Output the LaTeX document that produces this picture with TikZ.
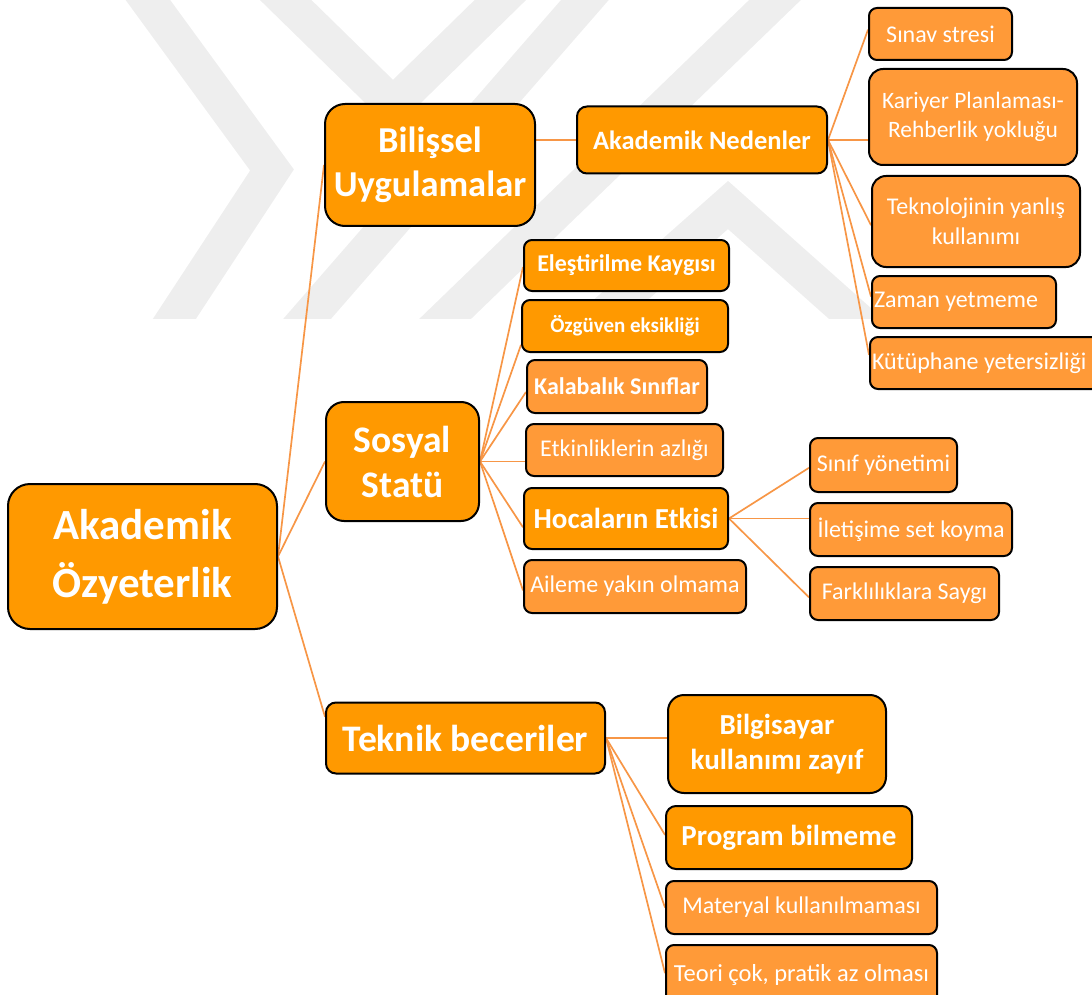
\documentclass[tikz,border=0pt]{standalone}
\usepackage{fontspec}
\setmainfont{Carlito}
\usetikzlibrary{calc,backgrounds}

\definecolor{darkor}{RGB}{255,153,0}
\definecolor{lightor}{RGB}{255,154,56}
\definecolor{linkor}{RGB}{247,150,70}
\definecolor{wmark}{RGB}{238,238,238}

\tikzset{
  box/.style={draw=black, line width=2pt, rounded corners=8pt, text=white,
              inner sep=1pt, align=center},
  main/.style={box, fill=darkor},
  leaf/.style={box, fill=lightor},
  bf/.style 2 args={font=\bfseries\fontsize{#1}{#2}\selectfont},
  rg/.style 2 args={font=\fontsize{#1}{#2}\selectfont},
  sz/.style 2 args={minimum width=#1, minimum height=#2},
  link/.style={draw=linkor, line width=1.7pt},
  band/.style={draw=wmark, line width=36pt, line join=miter, line cap=butt}
}

\begin{document}
\begin{tikzpicture}[x=1pt,y=-1pt]
\useasboundingbox (0,0) rectangle (1092,995);

% root
\node[main, bf={43pt}{58pt}, sz={269pt}{145pt}, rounded corners=22pt] (root) at (142.5,556.5) {Akademik\\Özyeterlik};

% first level
\node[main, bf={36.5pt}{44pt}, sz={210pt}{122pt}, rounded corners=20pt] (bil) at (430,165) {Bilişsel\\Uygulamalar};
\node[main, bf={37.5pt}{45pt}, sz={153pt}{119pt}, rounded corners=18pt] (sos) at (402.5,461.5) {Sosyal\\Statü};
\node[main, bf={37.5pt}{44pt}, sz={279pt}{71pt}, rounded corners=10pt] (tek) at (465.5,738) {Teknik beceriler};

% academic causes
\node[main, bf={26.5pt}{32pt}, sz={250pt}{67pt}, rounded corners=10pt] (an) at (702,140) {Akademik Nedenler};
\node[leaf, rg={24pt}{29pt}, sz={143pt}{52pt}] (sin) at (940.5,34) {Sınav stresi};
\node[leaf, rg={23.5pt}{28.5pt}, sz={208pt}{96pt}, rounded corners=14pt] (kar) at (973,117) {Kariyer Planlaması-\\Rehberlik yokluğu};
\node[leaf, rg={24pt}{30pt}, sz={208pt}{91pt}, rounded corners=14pt] (tekno) at (976,221.5) {Teknolojinin yanlış\\kullanımı};
\node[leaf, rg={24pt}{29pt}, sz={184pt}{52pt}] (zam) at (964,302) {\makebox[180pt][l]{Zaman yetmeme}};
\node[leaf, rg={24pt}{29pt}, sz={230pt}{52pt}] (kut) at (985,363) {\makebox[226pt][l]{Kütüphane yetersizliği}};

% social status
\node[main, bf={24pt}{29pt}, sz={205pt}{51pt}] (ele) at (626.5,265.5) {Eleştirilme Kaygısı};
\node[main, bf={21pt}{26pt}, sz={206pt}{52pt}] (ozg) at (625,326) {Özgüven eksikliği};
\node[leaf, bf={24pt}{29pt}, sz={180pt}{53pt}] (kal) at (617,386.5) {Kalabalık Sınıflar};
\node[leaf, rg={24pt}{29pt}, sz={197pt}{52pt}] (etk) at (624.5,450) {Etkinliklerin azlığı};
\node[main, bf={29pt}{35pt}, sz={204pt}{61pt}] (hoc) at (626,518.5) {Hocaların Etkisi};
\node[leaf, rg={24pt}{29pt}, sz={222pt}{53pt}] (ail) at (635,586.5) {Aileme yakın olmama};

% teachers
\node[leaf, rg={24pt}{29pt}, sz={147pt}{54pt}] (snf) at (883.5,465) {Sınıf yönetimi};
\node[leaf, rg={24pt}{29pt}, sz={202pt}{53pt}] (ilt) at (911,529.5) {İletişime set koyma};
\node[leaf, rg={24pt}{29pt}, sz={189pt}{53pt}] (frk) at (904.5,593.5) {Farklılıklara Saygı};

% technical skills
\node[main, bf={29pt}{35pt}, sz={218pt}{98pt}, rounded corners=16pt] (bsy) at (777,744) {Bilgisayar\\kullanımı zayıf};
\node[main, bf={29pt}{34pt}, sz={246pt}{63pt}, rounded corners=10pt] (prg) at (789,837.5) {Program bilmeme};
\node[leaf, rg={24pt}{29pt}, sz={271pt}{53pt}] (mat) at (801.5,907.5) {Materyal kullanılmaması};
\node[leaf, rg={24.5pt}{29pt}, sz={271pt}{60pt}] (teo) at (801.5,975) {Teori çok, pratik az olması};

\begin{scope}[on background layer]
  % light logo bands behind the map
  \begin{scope}
    \clip (0,0) rectangle (1092,318);
    \draw[band] (126,-30) -- (272,170) -- (154,350);
    \draw[band] (255,-30) -- (393,105) -- (531,-30);
    \draw[band] (280,350) -- (611,-30);
    \draw[band] (413,350) -- (806,-30);
    \draw[band] (564,350) -- (728,205) -- (891,350);
  \end{scope}

  % connectors
  \draw[link] (root.east) -- (bil.west);
  \draw[link] (root.east) -- (sos.west);
  \draw[link] (root.east) -- ($(tek.north west)!0.21!(tek.south west)$);

  \draw[link] (bil.east |- an.west) -- (an.west);
  \draw[link] (an.east) -- ($(sin.north west)!0.42!(sin.south west)$);
  \draw[link] (an.east) -- (an.east -| kar.west);
  \draw[link] (an.east) -- ($(tekno.north west)!0.54!(tekno.south west)$);
  \draw[link] (an.east) -- ($(zam.north west)!0.4!(zam.south west)$);
  \draw[link] (an.east) -- ($(kut.north west)!0.35!(kut.south west)$);

  \draw[link] (sos.east) -- ($(ele.north west)!0.53!(ele.south west)$);
  \draw[link] (sos.east) -- ($(ozg.north west)!0.85!(ozg.south west)$);
  \draw[link] (sos.east) -- ($(kal.north west)!0.6!(kal.south west)$);
  \draw[link] (sos.east) -- (sos.east -| etk.west);
  \draw[link] (sos.east) -- ($(hoc.north west)!0.64!(hoc.south west)$);
  \draw[link] (sos.east) -- ($(ail.north west)!0.57!(ail.south west)$);

  \draw[link] (hoc.east) -- ($(snf.north west)!0.55!(snf.south west)$);
  \draw[link] (hoc.east) -- (hoc.east -| ilt.west);
  \draw[link] (hoc.east) -- ($(frk.north west)!0.57!(frk.south west)$);

  \draw[link] (tek.east) -- (tek.east -| bsy.west);
  \draw[link] (tek.east) -- ($(prg.north west)!0.46!(prg.south west)$);
  \draw[link] (tek.east) -- ($(mat.north west)!0.5!(mat.south west)$);
  \draw[link] (tek.east) -- ($(teo.north west)!0.47!(teo.south west)$);
\end{scope}
\end{tikzpicture}
\end{document}
